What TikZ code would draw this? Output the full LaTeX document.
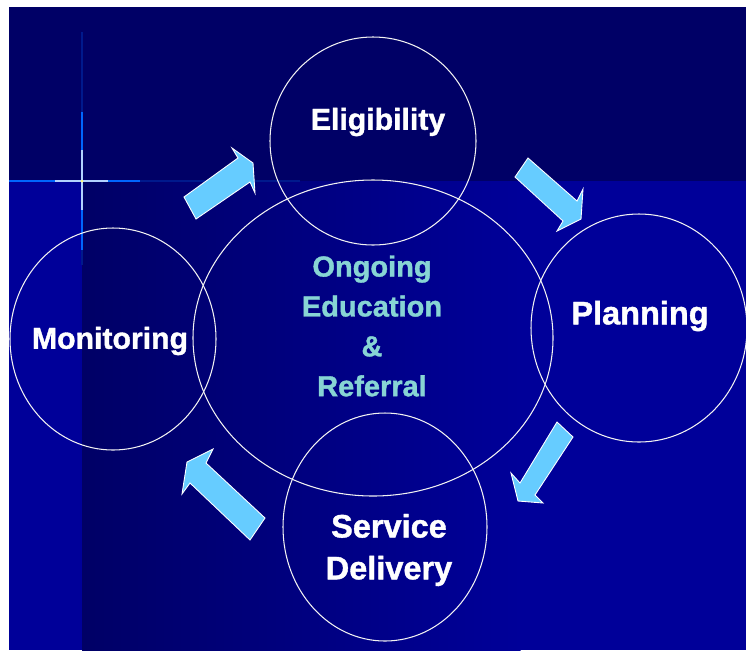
\documentclass[tikz,border=0pt]{standalone}
\usepackage{fontspec}
\setmainfont{Liberation Sans}
\newfontfamily\heavyfont{Liberation Sans}[BoldFeatures={FakeBold=1.2}]
\definecolor{navy}{RGB}{0,0,102}
\definecolor{royal}{RGB}{0,0,153}
\definecolor{sky}{RGB}{102,204,255}
\definecolor{glow}{RGB}{0,102,255}
\definecolor{corecol}{RGB}{135,212,212}
\tikzset{
  ring/.style={draw=white!90!gray,line width=0.6pt},
  block/.style={fill=sky,draw=white,line width=0.5pt,line join=miter},
  stagetxt/.style={text=white,font=\heavyfont\bfseries\fontsize{17.2}{23}\selectfont,align=center},
  heavytxt/.style={text=white,font=\heavyfont\bfseries\fontsize{18.5}{23.8}\selectfont,align=center},
  coretxt/.style={text=corecol,font=\heavyfont\bfseries\fontsize{16.5}{22.7}\selectfont,align=center}
}
\begin{document}
\begin{tikzpicture}[x=0.02cm,y=-0.02cm]
\useasboundingbox (0,0) rectangle (746,650);
% background
\fill[white] (0,0) rectangle (746,650);
\fill[navy] (9,7) rectangle (746,181);
\fill[royal] (9,181) rectangle (82,650);
\shade[left color=navy,right color=royal] (82,181) rectangle (520.5,650);
\fill[royal] (520,181) rectangle (746,650);
% sparkle
\draw[glow!25!navy,line width=0.6pt] (140,181) -- (300,181);
\draw[glow,line width=1.2pt] (9,181) -- (55,181);
\draw[glow,line width=1.2pt] (108,181) -- (140,181);
\draw[white!70!glow,line width=0.6pt] (55,181) -- (108,181);
\draw[glow!25!navy,line width=0.6pt] (82,32) -- (82,112);
\draw[glow!25!navy,line width=0.6pt] (82,250) -- (82,265);
\draw[glow,line width=1.2pt] (82,112) -- (82,150);
\draw[glow,line width=1.2pt] (82,210) -- (82,250);
\draw[white!70!glow,line width=0.6pt] (82,150) -- (82,210);
\fill[yellow!50!white] (82,181) circle (1.5);
% circles
\draw[ring] (373,338) ellipse [x radius=180,y radius=158];
\draw[ring] (373,141) ellipse [x radius=103,y radius=104];
\draw[ring] (639,328) ellipse [x radius=108,y radius=114];
\draw[ring] (385,527) ellipse [x radius=102,y radius=114];
\draw[ring] (113,339) ellipse [x radius=103,y radius=111];
% arrows
\draw[block] (184,197) -- (196,219) -- (250,182) -- (255,193) -- (253,163) -- (232,148) -- (238,158) -- cycle;
\draw[block] (528,158) -- (515,177) -- (563,221) -- (557,231) -- (581,219) -- (583,189) -- (577,201) -- cycle;
\draw[block] (557,422) -- (573,437) -- (535,495) -- (543,503) -- (518,501) -- (511,473) -- (520,483) -- cycle;
\draw[block] (265,518) -- (250,540) -- (190,483) -- (182,494) -- (187,462) -- (213,449) -- (206,463) -- cycle;
% labels
\node[stagetxt] (elig) at (378,122) {Eligibility};
\node[heavytxt] (plan) at (640,316) {Planning};
\node[heavytxt] (serv) at (389,550) {Service\\Delivery};
\node[stagetxt] (moni) at (110,341) {Monitoring};
\node[coretxt] (core) at (372,326) {Ongoing\\Education\\\&\\Referral};
\end{tikzpicture}
\end{document}
